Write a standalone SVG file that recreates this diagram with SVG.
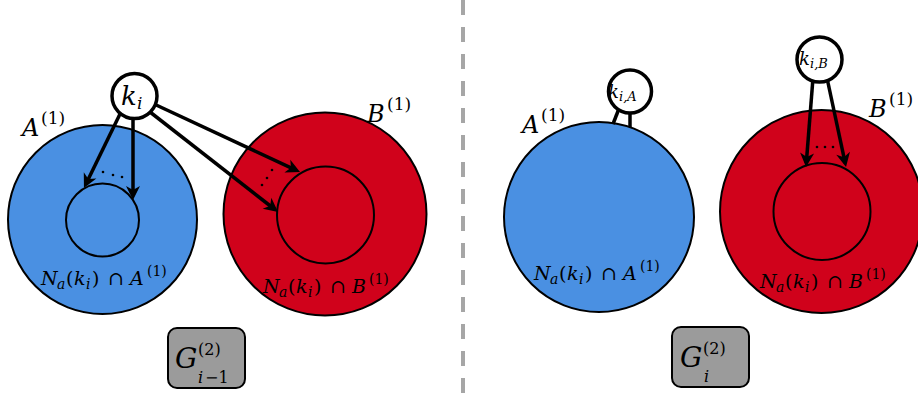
<svg xmlns="http://www.w3.org/2000/svg" width="918" height="398" viewBox="0 0 918 398">
<style>
.big{stroke:#000;stroke-width:2}
.blue{fill:#4A90E2}
.red{fill:#D0021B}
.inner{fill:none;stroke:#000;stroke-width:2}
.node{fill:#fff;stroke:#000;stroke-width:3.5}
.arr{stroke:#000;stroke-width:3.5;fill:none;marker-end:url(#ah)}
.stub{stroke:#000;stroke-width:3.5;fill:none}
.box{fill:#9B9B9B;stroke:#000;stroke-width:2}
text{font-family:'DejaVu Serif',serif}
.it{font-style:italic}
</style>
<defs>
<marker id="ah" markerUnits="userSpaceOnUse" markerWidth="20" markerHeight="20" viewBox="-12 -10 20 20" refX="0" refY="0" orient="auto">
<path d="M4,0 L-10,-7 L-6,0 L-10,7 Z" fill="#000"/>
</marker>
</defs>

<rect width="918" height="398" fill="#fff"/>

<line id="divider" x1="463" y1="0" x2="463" y2="398" stroke="#A6A6A6" stroke-width="4" stroke-dasharray="15 12"/>

<g id="setA-left">
<circle class="big blue" cx="102.5" cy="219.5" r="94.5"/>
<circle class="inner" cx="102.5" cy="220" r="36.5"/>
<text font-size="24"><tspan class="it" x="22" y="136">A</tspan><tspan x="41" y="124" font-size="17">(1)</tspan></text>
<text font-size="19"><tspan class="it" x="41" y="285">N</tspan><tspan class="it" x="57" y="289" font-size="14">a</tspan><tspan x="66" y="285">(</tspan><tspan class="it" x="74" y="285">k</tspan><tspan class="it" x="86" y="289" font-size="14">i</tspan><tspan x="92" y="285">)</tspan><tspan x="108" y="285">∩</tspan><tspan class="it" x="130" y="285">A</tspan><tspan x="147" y="276" font-size="14">(1)</tspan></text>
</g>
<g id="setB-left">
<circle class="big red" cx="325" cy="214" r="101.5"/>
<circle class="inner" cx="325.5" cy="215" r="48.5"/>
<text font-size="24"><tspan class="it" x="367" y="122">B</tspan><tspan x="387" y="110" font-size="17">(1)</tspan></text>
<text font-size="19"><tspan class="it" x="263" y="293">N</tspan><tspan class="it" x="279" y="297" font-size="14">a</tspan><tspan x="288" y="293">(</tspan><tspan class="it" x="296" y="293">k</tspan><tspan class="it" x="308" y="297" font-size="14">i</tspan><tspan x="314" y="293">)</tspan><tspan x="330" y="293">∩</tspan><tspan class="it" x="352" y="293">B</tspan><tspan x="369" y="284" font-size="14">(1)</tspan></text>
</g>

<g id="setA-right">
<circle class="big blue" cx="599" cy="217" r="95"/>
<text font-size="24"><tspan class="it" x="522" y="133">A</tspan><tspan x="541" y="121" font-size="17">(1)</tspan></text>
<text font-size="19"><tspan class="it" x="534" y="280">N</tspan><tspan class="it" x="550" y="284" font-size="14">a</tspan><tspan x="559" y="280">(</tspan><tspan class="it" x="567" y="280">k</tspan><tspan class="it" x="579" y="284" font-size="14">i</tspan><tspan x="585" y="280">)</tspan><tspan x="601" y="280">∩</tspan><tspan class="it" x="623" y="280">A</tspan><tspan x="640" y="271" font-size="14">(1)</tspan></text>
</g>
<g id="setB-right">
<circle class="big red" cx="821.5" cy="211.5" r="101.5"/>
<circle class="inner" cx="822" cy="211.5" r="48.5"/>
<text font-size="24"><tspan class="it" x="869" y="117">B</tspan><tspan x="889" y="105" font-size="17">(1)</tspan></text>
<text font-size="19"><tspan class="it" x="760" y="288">N</tspan><tspan class="it" x="776" y="292" font-size="14">a</tspan><tspan x="785" y="288">(</tspan><tspan class="it" x="793" y="288">k</tspan><tspan class="it" x="805" y="292" font-size="14">i</tspan><tspan x="811" y="288">)</tspan><tspan x="827" y="288">∩</tspan><tspan class="it" x="849" y="288">B</tspan><tspan x="866" y="279" font-size="14">(1)</tspan></text>
</g>

<g id="connectors">
<line class="arr" x1="120" y1="114" x2="85.7" y2="184.4"/>
<line class="arr" x1="133" y1="117" x2="133" y2="196"/>
<line class="arr" x1="154" y1="104" x2="296.4" y2="170.3"/>
<line class="arr" x1="150" y1="112" x2="274.9" y2="209.5"/>
<line class="stub" x1="620" y1="106" x2="613" y2="124"/>
<line class="stub" x1="630" y1="108" x2="630" y2="127"/>
<line class="arr" x1="813" y1="78" x2="806.3" y2="163"/>
<line class="arr" x1="827" y1="78" x2="845.2" y2="163.1"/>
<g fill="#000">
<circle cx="103" cy="172" r="1.3"/><circle cx="113" cy="175" r="1.3"/><circle cx="122" cy="177" r="1.3"/>
<circle cx="272" cy="170" r="1.3"/><circle cx="267" cy="178" r="1.3"/><circle cx="262" cy="185" r="1.3"/>
<circle cx="817" cy="147" r="1.3"/><circle cx="825" cy="147" r="1.3"/><circle cx="833" cy="147" r="1.3"/>
</g>
</g>

<g id="node-ki">
<circle class="node" cx="134.5" cy="96" r="22.5"/>
<text><tspan class="it" x="121" y="105" font-size="26">k</tspan><tspan class="it" x="137" y="109" font-size="17">i</tspan></text>
</g>
<g id="node-kiA">
<circle class="node" cx="630" cy="91.5" r="21.5"/>
<text><tspan class="it" x="608" y="98" font-size="18">k</tspan><tspan class="it" x="619" y="101" font-size="13">i,A</tspan></text>
</g>
<g id="node-kiB">
<circle class="node" cx="819.5" cy="59.5" r="22.5"/>
<text><tspan class="it" x="799" y="65" font-size="18">k</tspan><tspan class="it" x="810" y="68" font-size="13">i,B</tspan></text>
</g>

<g id="graph-left">
<rect class="box" x="168" y="328" width="77" height="60" rx="9"/>
<text><tspan class="it" x="175" y="368" font-size="28">G</tspan><tspan x="198" y="355" font-size="16">(2)</tspan><tspan class="it" x="198" y="383" font-size="16">i</tspan><tspan x="205" y="383" font-size="16">−1</tspan></text>
</g>
<g id="graph-right">
<rect class="box" x="672" y="327" width="77" height="60" rx="9"/>
<text><tspan class="it" x="680" y="367" font-size="28">G</tspan><tspan x="703" y="354" font-size="16">(2)</tspan><tspan class="it" x="704" y="382" font-size="16">i</tspan></text>
</g>
</svg>
